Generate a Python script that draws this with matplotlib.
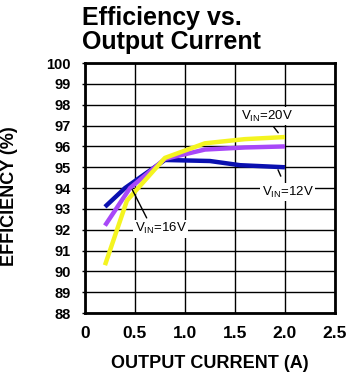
"""Efficiency vs. Output Current (datasheet style)."""
import matplotlib
matplotlib.use("Agg")
import matplotlib.pyplot as plt

plt.rcParams["font.family"] = ["Liberation Sans", "DejaVu Sans"]
plt.rcParams["font.weight"] = "bold"

# --- Données ---
i_12v = [0.2, 0.4, 0.8, 1.25, 1.55, 2.0]
eff_12v = [93.1, 94.0, 95.35, 95.3, 95.1, 95.0]

i_16v = [0.2, 0.45, 0.8, 1.2, 1.6, 2.0]
eff_16v = [92.2, 94.0, 95.4, 95.85, 95.95, 96.0]

i_20v = [0.2, 0.42, 0.8, 1.2, 1.6, 2.0]
eff_20v = [90.3, 93.4, 95.45, 96.15, 96.35, 96.45]

xticks = [0, 0.5, 1.0, 1.5, 2.0, 2.5]
xtick_labels = ["0", "0.5", "1.0", "1.5", "2.0", "2.5"]
yticks = list(range(88, 101))

fig = plt.figure(figsize=(3.54, 3.80), dpi=100)
ax = fig.add_axes([0.240, 0.176, 0.706, 0.658])

ax.plot(i_12v, eff_12v, color="#0A10B0", lw=3.2, solid_capstyle="butt", zorder=3)
ax.plot(i_16v, eff_16v, color="#A848F8", lw=3.2, solid_capstyle="butt", zorder=4)
ax.plot(i_20v, eff_20v, color="#F4F420", lw=3.2, solid_capstyle="butt", zorder=5)

ax.set_xlim(0, 2.5)
ax.set_ylim(88, 100)
ax.set_xticks(xticks)
ax.set_xticklabels(xtick_labels, fontsize=12.5, fontweight="bold")
ax.set_yticks(yticks)
ax.set_yticklabels([str(v) for v in yticks], fontsize=10.5, fontweight="bold")
ax.tick_params(axis="x", length=0, pad=9)
ax.tick_params(axis="y", length=2.5, width=1, pad=8)
ax.grid(True, color="black", lw=1.0)
for s in ax.spines.values():
    s.set_linewidth(2)

ax.set_xlabel("OUTPUT CURRENT (A)", fontsize=13, fontweight="bold", labelpad=10)
fig.text(0.028, 0.485, "EFFICIENCY (%)", rotation=90, ha="center", va="center",
         fontsize=13, fontweight="bold")

fig.text(0.232, 0.985, "Efficiency vs.\nOutput Current", ha="left", va="top",
         fontsize=18, fontweight="bold", linespacing=1.0)

# Annotations avec fond blanc
box = dict(facecolor="white", edgecolor="none", pad=1)
lab_kw = dict(fontsize=9.5, fontweight="normal", va="center", ha="left",
              bbox=box, zorder=6)
ax.text(1.565, 97.45, "V$_{\\mathregular{IN}}$=20V", **lab_kw)
ax.annotate("", xy=(1.95, 96.55), xytext=(1.87, 97.05),
            arrowprops=dict(arrowstyle="-", color="black", lw=1), zorder=6)
ax.text(1.77, 93.8, "V$_{\\mathregular{IN}}$=12V", **lab_kw)
ax.annotate("", xy=(1.92, 95.0), xytext=(1.97, 94.45),
            arrowprops=dict(arrowstyle="-", color="black", lw=1), zorder=6)
ax.text(0.5, 92.05, "V$_{\\mathregular{IN}}$=16V", **lab_kw)
ax.annotate("", xy=(0.46, 94.05), xytext=(0.63, 92.45),
            arrowprops=dict(arrowstyle="-", color="black", lw=1), zorder=6)

fig.savefig("out.png", dpi=100)
